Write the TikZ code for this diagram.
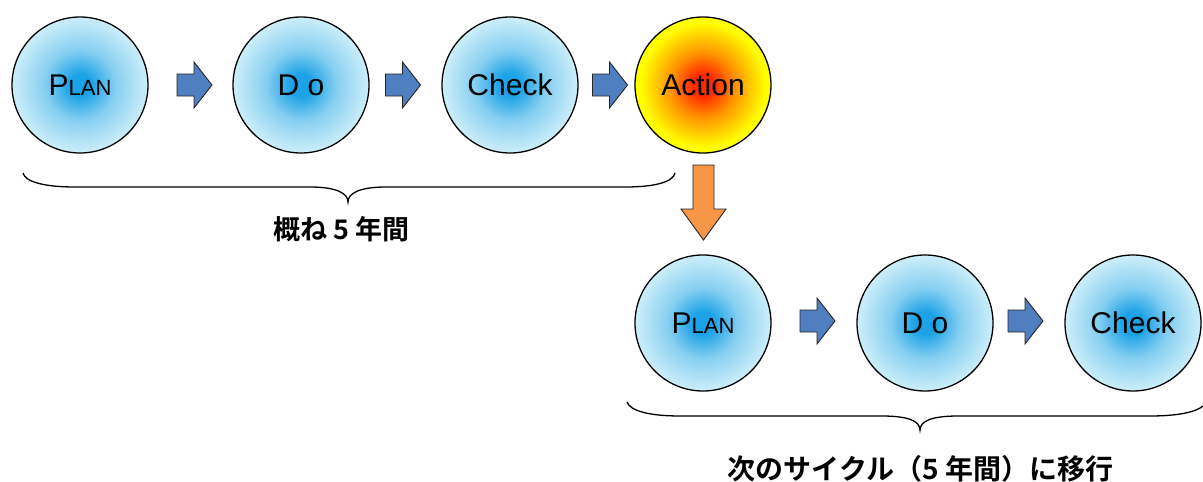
\documentclass[tikz,border=0pt]{standalone}
\usepackage{fontspec}
\newfontfamily\latinf{Liberation Sans}
\newfontfamily\jpf{Noto Sans CJK JP Bold}
\definecolor{bcore}{HTML}{1CA2E6}
\definecolor{bmid}{HTML}{86CFF1}
\definecolor{bedge}{HTML}{CDEEF9}
\definecolor{acore}{HTML}{FF2A00}
\definecolor{amid}{HTML}{FF9400}
\definecolor{aedge}{HTML}{FFFF00}
\definecolor{barrow}{HTML}{4F7FBE}
\definecolor{oarrow}{HTML}{F79646}
\pgfdeclareradialshading{bluecore}{\pgfpoint{0bp}{0bp}}{color(0bp)=(bcore); color(4bp)=(bcore); color(13bp)=(bmid); color(25bp)=(bedge); color(70bp)=(bedge)}
\pgfdeclareradialshading{actcore}{\pgfpoint{0bp}{0bp}}{color(0bp)=(acore); color(4bp)=(acore); color(12bp)=(amid); color(23bp)=(aedge); color(70bp)=(aedge)}
\tikzset{
  pdca/.style={circle, draw=black, line width=1.3pt, minimum size=136pt, inner sep=0pt, shading=bluecore, font=\latinf\fontsize{30}{30}\selectfont},
  actnode/.style={pdca, shading=actcore},
  barr/.style={draw=black!85, line width=0.9pt, fill=barrow, line join=miter},
  oarr/.style={draw=black!85, line width=0.9pt, fill=oarrow, line join=miter},
  bracepath/.style={line width=1.3pt, black},
  jplabel/.style={font=\jpf\fontsize{27}{27}\selectfont, inner sep=0pt}
}
\newcommand{\smallcap}[1]{{\fontsize{22}{22}\selectfont #1}}
\newcommand{\blockarrow}[1]{%
  \draw[barr] ([shift={(-17.5,-11)}]#1) -- ([shift={(-0.5,-11)}]#1) -- ([shift={(-0.5,-23)}]#1)
    -- ([shift={(17.5,0)}]#1) -- ([shift={(-0.5,23)}]#1) -- ([shift={(-0.5,11)}]#1)
    -- ([shift={(-17.5,11)}]#1) -- cycle;}
\begin{document}
\begin{tikzpicture}[x=1pt,y=-1pt]
\useasboundingbox (0,0) rectangle (1203,482);
% top row
\node[pdca] (plan1) at (80,85) {P\smallcap{LAN}};
\node[pdca] (do1) at (301,85) {D o};
\node[pdca] (check1) at (510,85) {Check};
\node[actnode] (act) at (703,85) {Action};
\coordinate (a1) at (194.5,85);
\coordinate (a2) at (403,85);
\coordinate (a3) at (610,85);
\blockarrow{a1}
\blockarrow{a2}
\blockarrow{a3}
% down arrow
\coordinate (down) at (703.5,202.5);
\draw[oarr] ([shift={(-10.5,-37.5)}]down) -- ([shift={(10.5,-37.5)}]down) -- ([shift={(10.5,6.5)}]down)
  -- ([shift={(22.5,6.5)}]down) -- ([shift={(0,37.5)}]down) -- ([shift={(-22.5,6.5)}]down)
  -- ([shift={(-10.5,6.5)}]down) -- cycle;
% bottom row
\node[pdca] (plan2) at (703,323) {P\smallcap{LAN}};
\node[pdca] (do2) at (925,323) {D o};
\node[pdca] (check2) at (1133,323) {Check};
\coordinate (b1) at (817.5,321);
\coordinate (b2) at (1025.5,321);
\blockarrow{b1}
\blockarrow{b2}
% braces
\draw[bracepath] (23,173) .. controls (25,182) and (45,187) .. (75,187) -- (310,187)
  .. controls (336,187) and (348,193) .. (348,202)
  .. controls (348,193) and (360,187) .. (386,187) -- (625,187)
  .. controls (655,187) and (673,182) .. (675,173);
\draw[bracepath] (627,402) .. controls (630,411) and (650,416) .. (680,416) -- (882,416)
  .. controls (908,416) and (920,421) .. (920,430)
  .. controls (920,421) and (932,416) .. (958,416) -- (1150,416)
  .. controls (1178,416) and (1196,412) .. (1203,406);
% labels
\node[jplabel] (t1) at (341.5,229) {概ね 5 年間};
\node[jplabel, font=\jpf\fontsize{28}{28}\selectfont] (t2) at (920.5,469) {次のサイクル（5 年間）に移行};
\end{tikzpicture}
\end{document}
